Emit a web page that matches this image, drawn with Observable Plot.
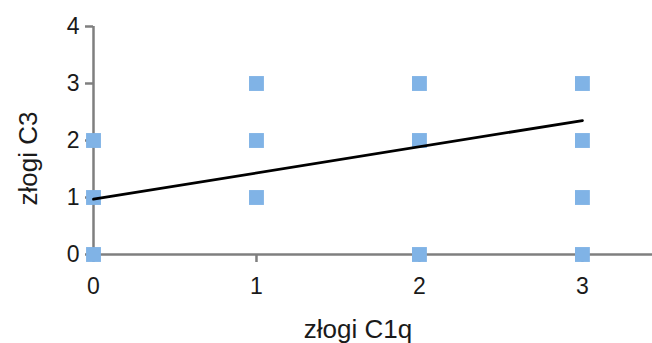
<!DOCTYPE html>
<html><head><meta charset="utf-8">
<script src="https://cdn.jsdelivr.net/npm/d3@7"></script>
<script src="https://cdn.jsdelivr.net/npm/@observablehq/plot@0.6"></script>
<style>body{margin:0;background:#fff}</style>
</head><body><div id="chart"></div>
<script>
const xValues = [0, 0, 0, 1, 1, 1, 2, 2, 2, 3, 3, 3, 3];
const yValues = [0, 1, 2, 1, 2, 3, 0, 2, 3, 0, 1, 2, 3];
const trendX = [0, 3];
const trendY = [0.97, 2.35];
const xTicks = [0, 1, 2, 3];
const yTicks = [0, 1, 2, 3, 4];
const xLabel = "złogi C1q";
const yLabel = "złogi C3";

const points = xValues.map((x, i) => ({x, y: yValues[i]}));
const trend = trendX.map((x, i) => ({x, y: trendY[i]}));

const axisColor = "#7f7f7f";
const textColor = "#1a1a1a";
const chart = Plot.plot({
  width: 652, height: 343,
  marginLeft: 93, marginRight: 0, marginTop: 26, marginBottom: 89,
  style: {fontFamily: "'Liberation Sans', Arial, sans-serif", fontSize: "23px", color: textColor, background: "#fff"},
  x: {domain: [0, 3.43]},
  y: {domain: [0, 4]},
  marks: [
    Plot.ruleY([0], {stroke: axisColor, strokeWidth: 2.5}),
    Plot.ruleX([0], {y1: 0, y2: 4, stroke: axisColor, strokeWidth: 2.5}),
    Plot.axisX({ticks: xTicks, tickFormat: "d", tickSize: 8, tickPadding: 15, stroke: axisColor, strokeWidth: 2.5, fontSize: 23, fill: textColor, label: null, strokeOpacity: 1}),
    Plot.axisY({ticks: yTicks, tickFormat: "d", tickSize: 8, tickPadding: 6, stroke: axisColor, strokeWidth: 2.5, fontSize: 23, fill: textColor, label: null, strokeOpacity: 1}),
    Plot.dot(points, {x: "x", y: "y", symbol: "square", r: 8.4, fill: "#80b3e6", stroke: "none"}),
    Plot.line(trend, {x: "x", y: "y", stroke: "#000", strokeWidth: 2.8}),
    Plot.text([xLabel], {frameAnchor: "bottom", textAnchor: "middle", dx: -15, dy: 75, fontSize: 26, fill: textColor, lineAnchor: "middle"}),
    Plot.text([yLabel], {frameAnchor: "left", textAnchor: "middle", dx: -65, dy: 18, rotate: -90, fontSize: 26, fill: textColor, lineAnchor: "middle"})
  ]
});
document.getElementById("chart").appendChild(chart);
</script></body></html>
